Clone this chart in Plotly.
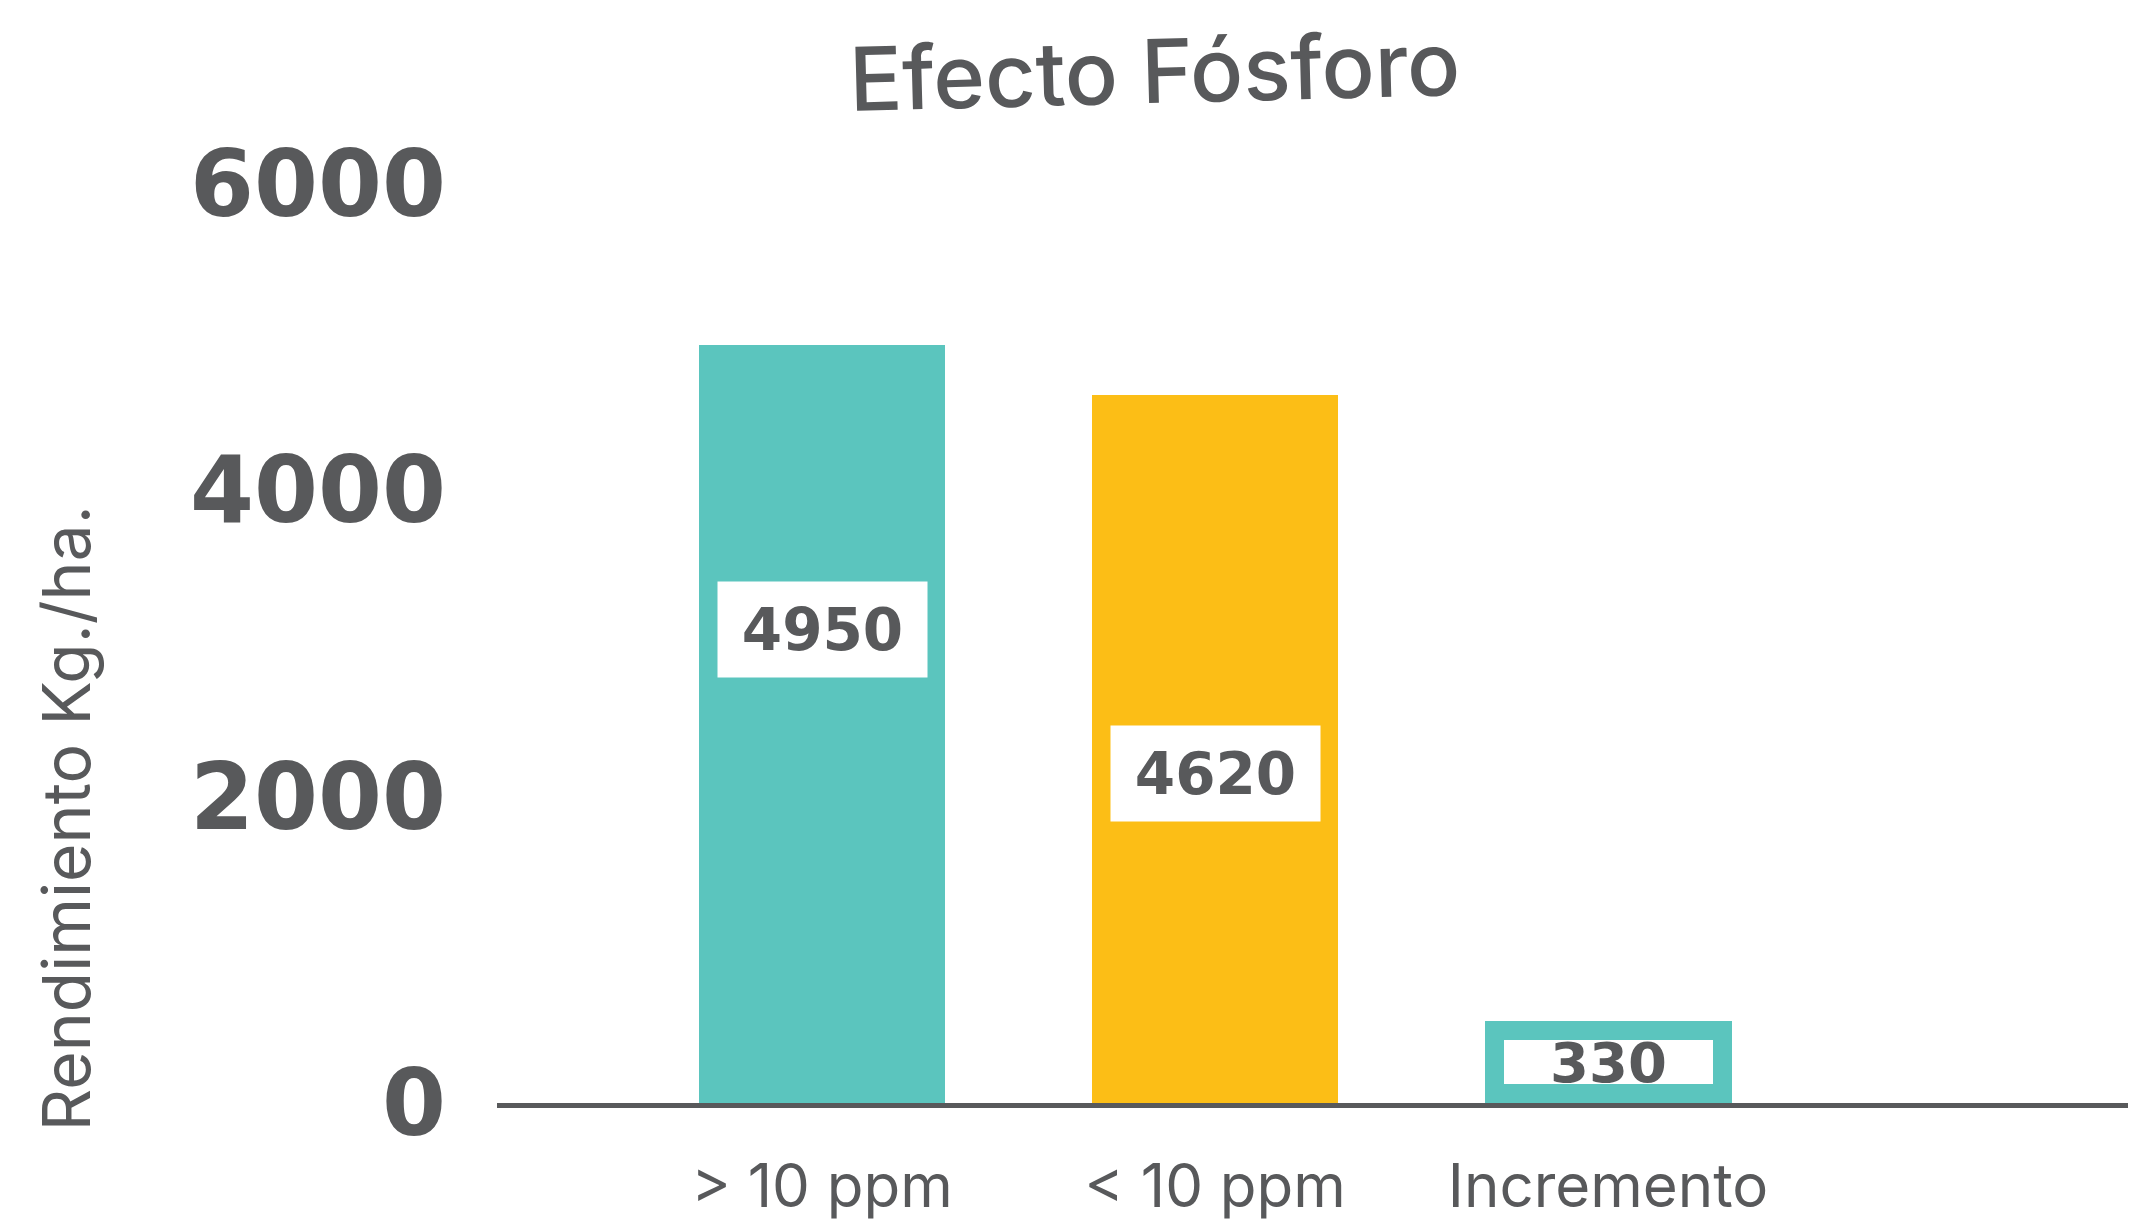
import plotly.graph_objects as go

# Yield by phosphorus level (kg/ha)
categories = ["> 10 ppm", "< 10 ppm", "Incremento"]
rendimiento = [4950, 4620, 330]
y_ticks = [0, 2000, 4000, 6000]

TEAL = "#5BC5BE"
YELLOW = "#FCBE16"
GREY = "#58595B"
bar_colors = [TEAL, YELLOW, TEAL]

# vertical anchor of the value boxes inside the two tall bars
label_y = [3090, 2150]

fig = go.Figure()
fig.add_trace(go.Bar(
    x=list(range(len(categories))),
    y=rendimiento,
    marker=dict(color=bar_colors, line=dict(width=0)),
    width=0.628,
    hoverinfo="skip",
))

# white value boxes on the bars
for i, v in enumerate(rendimiento[:2]):
    fig.add_annotation(
        x=i, y=label_y[i], xref="x", yref="y",
        text=f"<b>{v}</b>", showarrow=False,
        font=dict(family="DejaVu Sans", size=58, color=GREY),
        bgcolor="white", width=209, height=95, borderpad=0,
        xanchor="center", yanchor="middle",
    )

# the increment is framed in the bar colour, sitting on the baseline
fig.add_annotation(
    x=2, y=0, xref="x", yref="y",
    text=f"<b>{rendimiento[2]}</b>", showarrow=False,
    font=dict(family="DejaVu Sans", size=56, color=GREY),
    bgcolor="white", bordercolor=TEAL, borderwidth=19,
    width=209, height=44, borderpad=0,
    xanchor="center", yanchor="bottom",
)

# title, slightly tilted
fig.add_annotation(
    x=0.403, y=1.036, xref="paper", yref="paper",
    text="Efecto Fósforo", showarrow=False, textangle=-1.5,
    font=dict(family="Inter", size=88, color=GREY, weight=500),
    xanchor="center", yanchor="middle",
)

# y-axis title
fig.add_annotation(
    x=0, y=0.286, xref="paper", yref="paper", xshift=-431,
    text="Rendimiento Kg./ha.", showarrow=False, textangle=-90,
    font=dict(family="Inter", size=66, color=GREY),
    xanchor="center", yanchor="middle",
)

fig.update_layout(
    width=2149, height=1226,
    margin=dict(l=497, r=21, t=107, b=123),
    paper_bgcolor="white", plot_bgcolor="white",
    showlegend=False,
    bargap=0,
)
fig.update_xaxes(
    tickmode="array",
    tickvals=list(range(len(categories))),
    ticktext=categories,
    range=[-0.827, 3.323],
    showgrid=False, zeroline=False,
    showline=True, linecolor=GREY, linewidth=5,
    ticks="", ticklabelstandoff=27, automargin=False,
    tickfont=dict(family="Inter", size=60, color=GREY),
)
fig.update_yaxes(
    range=[0, 6500],
    tickmode="array", tickvals=y_ticks,
    ticktext=[str(t) for t in y_ticks],
    showgrid=False, zeroline=False, showline=False,
    ticks="", ticklabelstandoff=50, automargin=False,
    tickfont=dict(family="DejaVu Sans", size=92, color=GREY, weight="bold"),
)

fig.write_html("out.html")
